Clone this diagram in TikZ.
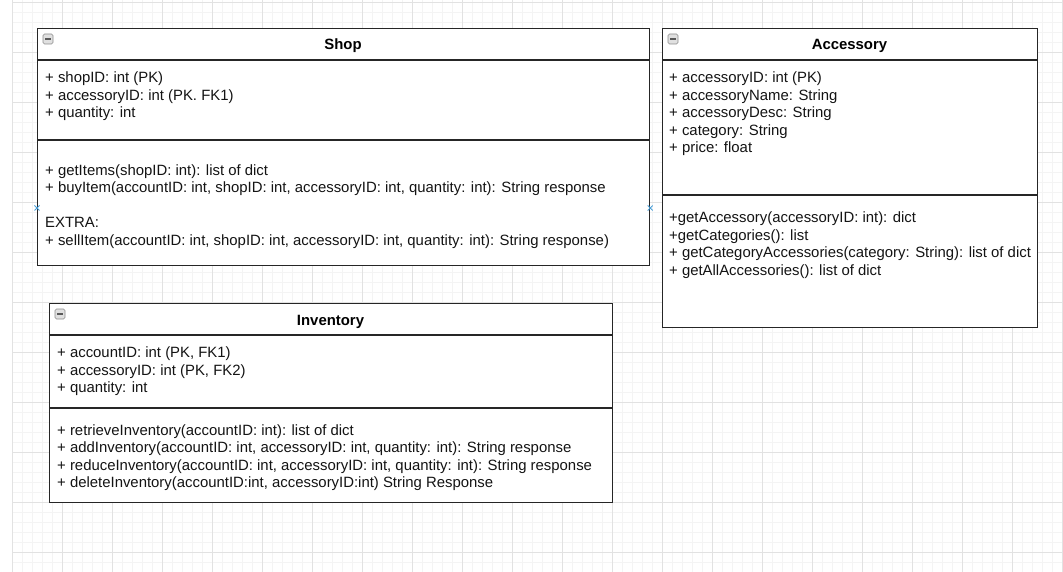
\documentclass[tikz,border=0pt]{standalone}
\usepackage{fontspec}
\setmainfont{Liberation Sans}
\definecolor{gridminor}{HTML}{F4F4F4}
\definecolor{gridmajor}{HTML}{E2E2E2}
\definecolor{linecol}{HTML}{262626}
\definecolor{cpblue}{HTML}{4A9FD8}
\begin{document}
\begin{tikzpicture}[x=1pt,y=-1pt,
  box/.style={draw=linecol, line width=1.2pt, fill=white, inner sep=0, anchor=north west},
  divider/.style={draw=linecol, line width=1.2pt},
  txt/.style={anchor=base west, inner sep=0, font=\fontsize{14.9}{17}\selectfont, text=black!92},
  ttl/.style={anchor=base, inner sep=0, font=\fontsize{14.9}{17}\selectfont\bfseries},
  icon/.style={draw=black!45, fill=black!12, rounded corners=1.5pt, minimum size=10pt, inner sep=0, line width=0.6pt},
  cpmark/.style={draw=cpblue, line width=0.8pt},
  gminor/.style={draw=gridminor, line width=0.6pt},
  gmajor/.style={draw=gridmajor, line width=0.7pt}]
\useasboundingbox (0,0) rectangle (1063,572);
\fill[white] (0,0) rectangle (1063,572);
% grid
\foreach \x in {12,22,...,1062} \draw[gminor] (\x,0) -- (\x,572);
\foreach \y in {2,12,...,572} \draw[gminor] (12,\y) -- (1063,\y);
\foreach \x in {12,62,...,1062} \draw[gmajor] (\x,0) -- (\x,572);
\foreach \y in {2,52,...,572} \draw[gmajor] (12,\y) -- (1063,\y);

% Shop
\node[box, minimum width=612pt, minimum height=237pt] (shop) at (37,28) {};
\draw[divider] ([yshift=-32pt]shop.north west) -- ([yshift=-32pt]shop.north east);
\draw[divider] ([yshift=-112pt]shop.north west) -- ([yshift=-112pt]shop.north east);
\node[icon] (shopicon) at (48,39) {};
\draw[draw=black!65, line width=1.2pt] ([xshift=-3pt]shopicon.center) -- ([xshift=3pt]shopicon.center);
\node[ttl] (shopttl) at (343,50) {Shop};
\node[txt] (s1) at (45,82.5) {+ shopID: int (PK)};
\node[txt] (s2) at (45,100.5) {+ accessoryID: int (PK. FK1)};
\node[txt] (s3) at (45,117.5) {+ quantity: int};
\node[txt] (s4) at (45,175.5) {+ getItems(shopID: int): list of dict};
\node[txt] (s5) at (45,192.5) {+ buyItem(accountID: int, shopID: int, accessoryID: int, quantity: int): String response};
\node[txt] (s6) at (45,227.5) {EXTRA:};
\node[txt] (s7) at (45,245.5) {+ sellItem(accountID: int, shopID: int, accessoryID: int, quantity: int): String response)};
\coordinate (cpl) at ([yshift=-180pt]shop.north west);
\coordinate (cpr) at ([yshift=-180pt]shop.north east);
\foreach \c in {cpl,cpr} {
  \draw[cpmark] ([shift={(-2.5pt,-2.5pt)}]\c) -- ([shift={(2.5pt,2.5pt)}]\c);
  \draw[cpmark] ([shift={(-2.5pt,2.5pt)}]\c) -- ([shift={(2.5pt,-2.5pt)}]\c);
}

% Accessory
\node[box, minimum width=375pt, minimum height=299pt] (acc) at (662,28) {};
\draw[divider] ([yshift=-32pt]acc.north west) -- ([yshift=-32pt]acc.north east);
\draw[divider] ([yshift=-167pt]acc.north west) -- ([yshift=-167pt]acc.north east);
\node[icon] (accicon) at (673,39) {};
\draw[draw=black!65, line width=1.2pt] ([xshift=-3pt]accicon.center) -- ([xshift=3pt]accicon.center);
\node[ttl] (accttl) at (849.5,50) {Accessory};
\node[txt] (a1) at (669,82.5) {+ accessoryID: int (PK)};
\node[txt] (a2) at (669,100.5) {+ accessoryName: String};
\node[txt] (a3) at (669,117.5) {+ accessoryDesc: String};
\node[txt] (a4) at (669,135.5) {+ category: String};
\node[txt] (a5) at (669,152.5) {+ price: float};
\node[txt] (a6) at (669,222.5) {+getAccessory(accessoryID: int): dict};
\node[txt] (a7) at (669,240.5) {+getCategories(): list};
\node[txt] (a8) at (669,257.5) {+ getCategoryAccessories(category: String): list of dict};
\node[txt] (a9) at (669,275.5) {+ getAllAccessories(): list of dict};

% Inventory
\node[box, minimum width=563pt, minimum height=199pt] (inv) at (49,303) {};
\draw[divider] ([yshift=-32pt]inv.north west) -- ([yshift=-32pt]inv.north east);
\draw[divider] ([yshift=-105pt]inv.north west) -- ([yshift=-105pt]inv.north east);
\node[icon] (invicon) at (60,314) {};
\draw[draw=black!65, line width=1.2pt] ([xshift=-3pt]invicon.center) -- ([xshift=3pt]invicon.center);
\node[ttl] (invttl) at (330.5,325) {Inventory};
\node[txt] (i1) at (57,357.5) {+ accountID: int (PK, FK1)};
\node[txt] (i2) at (57,375.5) {+ accessoryID: int (PK, FK2)};
\node[txt] (i3) at (57,392.5) {+ quantity: int};
\node[txt] (i4) at (57,435.5) {+ retrieveInventory(accountID: int): list of dict};
\node[txt] (i5) at (57,452.5) {+ addInventory(accountID: int, accessoryID: int, quantity: int): String response};
\node[txt] (i6) at (57,470.5) {+ reduceInventory(accountID: int, accessoryID: int, quantity: int): String response};
\node[txt] (i7) at (57,487.5) {+ deleteInventory(accountID:int, accessoryID:int) String Response};
\end{tikzpicture}
\end{document}
